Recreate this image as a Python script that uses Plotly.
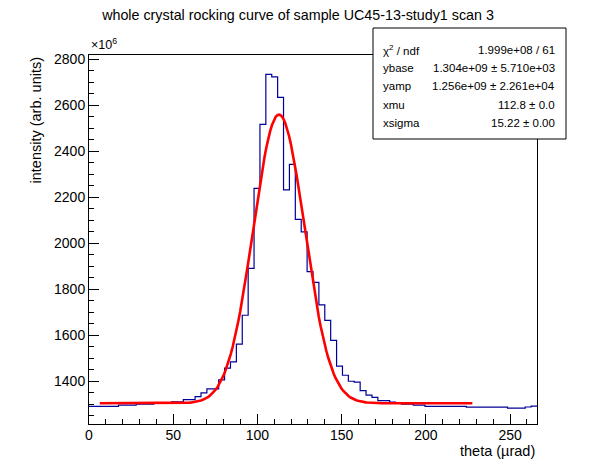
import numpy as np
import plotly.graph_objects as go

# histogram: 76 bins of 3.5 urad from 0, intensity in units of 1e6
bin_width = 3.5
theta_start = 0.0
intensity = [
    1291, 1291, 1291, 1291, 1291, 1296, 1296, 1296, 1300, 1300,
    1300, 1304, 1304, 1304, 1310, 1310, 1320, 1320, 1333, 1349,
    1367, 1367, 1406, 1457, 1484, 1561, 1687, 1891, 2239, 2517,
    2735, 2724, 2635, 2232, 2343, 2104, 2050, 1877, 1830, 1732,
    1665, 1578, 1466, 1426, 1400, 1396, 1359, 1340, 1330, 1316,
    1316, 1309, 1304, 1300, 1300, 1296, 1296, 1291, 1291, 1291,
    1291, 1291, 1291, 1291, 1287, 1287, 1287, 1287, 1287, 1287,
    1287, 1283, 1283, 1283, 1288, 1292,
]

# fit result shown in the stats box
ybase = 1.304e9
yamp = 1.256e9
xmu = 112.8
xsigma = 15.22
fit_range = (6.4, 227.6)

stats_labels = ["χ<sup>2</sup> / ndf", "ybase", "yamp", "xmu", "xsigma"]
stats_values = [
    "1.999e+08 / 61",
    "1.304e+09 ± 5.710e+03",
    "1.256e+09 ± 2.261e+04",
    "112.8 ± 0.0",
    "15.22 ± 0.00",
]

X_RANGE = [0, 266]
Y_RANGE = [1214, 2819]

# page pixel geometry (the html body adds an 8px margin all round)
PAGE_W, PAGE_H = 596, 472
OFF = 8
FX0, FX1, FY0, FY1 = 89, 537, 55, 424  # plot frame in page pixels


def px(x):
    return (x - FX0) / (FX1 - FX0)


def py(y):
    return (FY1 - y) / (FY1 - FY0)


n = len(intensity)
edges = theta_start + bin_width * np.arange(n + 1)
step_y = intensity + [intensity[-1]]

xf = np.linspace(fit_range[0], fit_range[1], 200)
yf = (ybase + yamp * np.exp(-0.5 * ((xf - xmu) / xsigma) ** 2)) / 1e6

fig = go.Figure()
fig.add_trace(
    go.Scatter(
        x=edges,
        y=step_y,
        mode="lines",
        line=dict(color="#000099", width=1.2, shape="hv"),
        showlegend=False,
    )
)
fig.add_trace(
    go.Scatter(
        x=xf,
        y=yf,
        mode="lines",
        line=dict(color="#ff0000", width=2.6),
        showlegend=False,
    )
)

axis_common = dict(
    showgrid=False,
    zeroline=False,
    showline=True,
    linecolor="black",
    linewidth=1,
    mirror=True,
    ticks="inside",
    ticklen=10,
    tickcolor="black",
    tickfont=dict(family="Liberation Sans", size=14, color="black"),
)

# keep the figure inside the window so no scrollbars appear
W, H = PAGE_W - 2 * OFF, PAGE_H - 2 * OFF
fig.update_layout(
    width=W,
    height=H,
    margin=dict(l=FX0 - OFF, r=W + OFF - FX1, t=FY0 - OFF, b=H + OFF - FY1),
    paper_bgcolor="white",
    plot_bgcolor="white",
    font=dict(family="Liberation Sans", color="black"),
    title=dict(
        text="whole crystal rocking curve of sample UC45-13-study1 scan 3",
        x=(298 - OFF) / W,
        xanchor="center",
        y=1 - (15 - OFF) / H,
        yanchor="middle",
        font=dict(size=14.3, color="black"),
    ),
    xaxis=dict(
        range=X_RANGE,
        dtick=50,
        ticklabelstandoff=-2,
        minor=dict(dtick=10, ticks="inside", ticklen=5, tickcolor="black"),
        **axis_common,
    ),
    yaxis=dict(
        range=Y_RANGE,
        dtick=200,
        minor=dict(dtick=50, ticks="inside", ticklen=5, tickcolor="black"),
        **axis_common,
    ),
)

# axis titles, ROOT style (at the far end of each axis)
fig.add_annotation(
    text="theta (µrad)",
    xref="paper", yref="paper",
    x=1.0, y=py(451),
    xanchor="right", yanchor="middle",
    showarrow=False,
    font=dict(size=14.5),
)
fig.add_annotation(
    text="intensity (arb. units)",
    xref="paper", yref="paper",
    x=px(35), y=1.0,
    xanchor="center", yanchor="top",
    textangle=-90,
    showarrow=False,
    font=dict(size=14.5),
)
fig.add_annotation(
    text="×10<sup>6</sup>",
    xref="paper", yref="paper",
    x=0.0, y=py(54),
    xanchor="left", yanchor="bottom",
    showarrow=False,
    font=dict(size=12.5),
)

# stats box
box_x0, box_x1, box_y0, box_y1 = 373, 566, 28, 139
fig.add_shape(
    type="rect",
    xref="paper", yref="paper",
    x0=px(box_x0), x1=px(box_x1), y0=py(box_y1), y1=py(box_y0),
    fillcolor="white",
    line=dict(color="black", width=1),
    layer="above",
)
for i, (lab, val) in enumerate(zip(stats_labels, stats_values)):
    yc = 50 + 18.2 * i
    fig.add_annotation(
        text=lab, xref="paper", yref="paper",
        x=px(381), y=py(yc), xanchor="left", yanchor="middle",
        showarrow=False, font=dict(size=11.5),
    )
    fig.add_annotation(
        text=val, xref="paper", yref="paper",
        x=px(557), y=py(yc), xanchor="right", yanchor="middle",
        showarrow=False, font=dict(size=11.5),
    )

fig.write_html("out.html")
